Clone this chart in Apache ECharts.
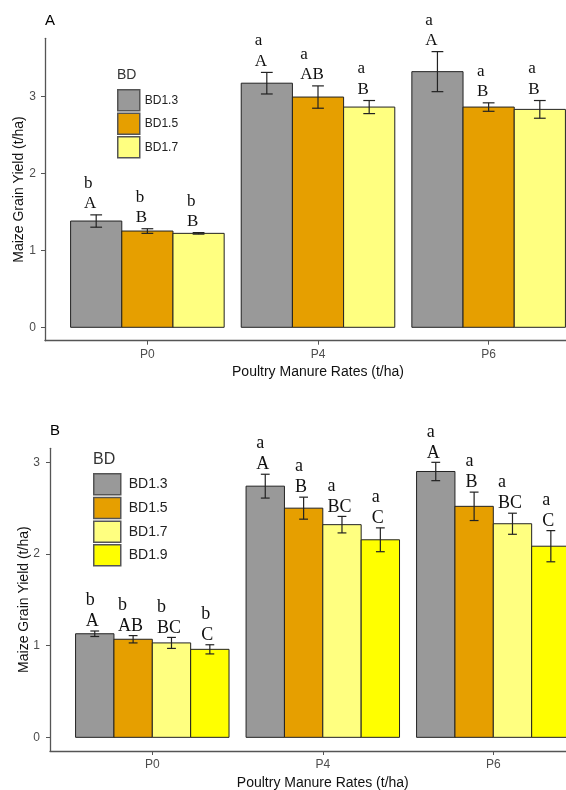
<!DOCTYPE html>
<html>
<head>
<meta charset="utf-8">
<title>Maize Grain Yield</title>
<script src="https://cdn.jsdelivr.net/npm/echarts@6/dist/echarts.min.js"></script>
<style>
  html, body { margin: 0; padding: 0; background: #fff; }
  #main { width: 566px; height: 790px; }
</style>
</head>
<body>
<div id="main"></div>
<script>
// manure rates on the x axis, bulk density levels as dodged bars
var categories = ['P0', 'P4', 'P6'];
var yTicks = [0, 1, 2, 3];

// panel A
var levelsA = ['BD1.3', 'BD1.5', 'BD1.7'];
var meanA13 = [1.38, 3.17, 3.32];
var meanA15 = [1.25, 2.99, 2.86];
var meanA17 = [1.22, 2.86, 2.83];
var seA13 = [0.08, 0.14, 0.26];
var seA15 = [0.03, 0.145, 0.055];
var seA17 = [0.01, 0.085, 0.115];
var upperA13 = ['A', 'A', 'A'];
var upperA15 = ['B', 'AB', 'B'];
var upperA17 = ['B', 'B', 'B'];
var lowerA13 = ['b', 'a', 'a'];
var lowerA15 = ['b', 'a', 'a'];
var lowerA17 = ['b', 'a', 'a'];

// panel B
var levelsB = ['BD1.3', 'BD1.5', 'BD1.7', 'BD1.9'];
var meanB13 = [1.13, 2.74, 2.90];
var meanB15 = [1.07, 2.50, 2.52];
var meanB17 = [1.03, 2.32, 2.33];
var meanB19 = [0.96, 2.155, 2.085];
var seB13 = [0.03, 0.13, 0.10];
var seB15 = [0.04, 0.12, 0.155];
var seB17 = [0.06, 0.09, 0.115];
var seB19 = [0.05, 0.13, 0.17];
var upperB13 = ['A', 'A', 'A'];
var upperB15 = ['AB', 'B', 'B'];
var upperB17 = ['BC', 'BC', 'BC'];
var upperB19 = ['C', 'C', 'C'];
var lowerB13 = ['b', 'a', 'a'];
var lowerB15 = ['b', 'a', 'a'];
var lowerB17 = ['b', 'a', 'a'];
var lowerB19 = ['b', 'a', 'a'];

var fills = { 'BD1.3': '#999999', 'BD1.5': '#E69F00', 'BD1.7': '#FFFF80', 'BD1.9': '#FFFF00' };
var sans = '"Liberation Sans", Arial, sans-serif';
var serif = '"Liberation Serif", "Times New Roman", serif';

var measureCtx = document.createElement('canvas').getContext('2d');

function panelSeries(panel, levels, means, ses, uppers, lowers, opt) {
    var n = levels.length;
    var font = opt.fontSize + 'px ' + serif;
    return levels.map(function (name, j) {
        return {
            type: 'custom',
            name: name,
            xAxisIndex: panel,
            yAxisIndex: panel,
            itemStyle: { color: fills[name] },
            data: categories.map(function (c, i) { return [i + 1, means[j][i], ses[j][i]]; }),
            renderItem: function (params, api) {
                var i = params.dataIndex;
                var x = api.value(0), m = api.value(1), s = api.value(2);
                var bw = 0.9 / n;
                var x0 = x - 0.45 + j * bw;
                var tl = api.coord([x0, m]);
                var br = api.coord([x0 + bw, 0]);
                var cx = (tl[0] + br[0]) / 2;
                var top = api.coord([x0 + bw / 2, m + s])[1];
                var bot = api.coord([x0 + bw / 2, m - s])[1];
                var cap = (br[0] - tl[0]) * 0.115;
                measureCtx.font = font;
                var w = measureCtx.measureText(uppers[j][i]).width;
                var lx = cx - w / 2 - opt.shift;
                var uy = top - opt.upGap;
                var line = { stroke: '#222', lineWidth: 1.2 };
                return {
                    type: 'group',
                    children: [
                        { type: 'rect', shape: { x: tl[0], y: tl[1], width: br[0] - tl[0], height: br[1] - tl[1] },
                          style: { fill: fills[name], stroke: '#222', lineWidth: 1 } },
                        { type: 'line', shape: { x1: cx, y1: top, x2: cx, y2: bot }, style: line },
                        { type: 'line', shape: { x1: cx - cap, y1: top, x2: cx + cap, y2: top }, style: line },
                        { type: 'line', shape: { x1: cx - cap, y1: bot, x2: cx + cap, y2: bot }, style: line },
                        { type: 'text', x: lx, y: uy,
                          style: { text: uppers[j][i], font: font, fill: '#111', align: 'left', verticalAlign: 'middle' } },
                        { type: 'text', x: lx, y: uy - opt.lineH,
                          style: { text: lowers[j][i], font: font, fill: '#111', align: 'left', verticalAlign: 'middle' } }
                    ]
                };
            }
        };
    });
}

function xAxisFor(grid, nameGap) {
    return {
        type: 'value', gridIndex: grid, min: 0.4, max: 3.6,
        axisLine: { show: true, onZero: false, lineStyle: { color: '#555', width: 1.3 } },
        axisTick: { show: true, customValues: [1, 2, 3], length: 4, lineStyle: { color: '#555', width: 1 } },
        axisLabel: { customValues: [1, 2, 3], formatter: function (v) { return categories[Math.round(v) - 1]; },
                     color: '#4d4d4d', fontSize: 12, fontFamily: sans, margin: 8 },
        splitLine: { show: false },
        name: 'Poultry Manure Rates (t/ha)', nameLocation: 'middle', nameGap: nameGap, nameMoveOverlap: false,
        nameTextStyle: { color: '#111', fontSize: 14, fontFamily: sans }
    };
}

function yAxisFor(grid, min, max, margin, nameGap) {
    return {
        type: 'value', gridIndex: grid, min: min, max: max,
        axisLine: { show: true, lineStyle: { color: '#555', width: 1.3 } },
        axisTick: { show: true, customValues: yTicks, length: 4, lineStyle: { color: '#555', width: 1 } },
        axisLabel: { customValues: yTicks, color: '#4d4d4d', fontSize: 12, fontFamily: sans, margin: margin },
        splitLine: { show: false },
        name: 'Maize Grain Yield (t/ha)', nameLocation: 'middle', nameGap: nameGap, nameRotate: 90,
        nameMoveOverlap: false,
        nameTextStyle: { color: '#111', fontSize: 14, fontFamily: sans }
    };
}

var chart = echarts.init(document.getElementById('main'), null, { renderer: 'canvas' });

var series = []
    .concat(panelSeries(0, levelsA, [meanA13, meanA15, meanA17], [seA13, seA15, seA17],
        [upperA13, upperA15, upperA17], [lowerA13, lowerA15, lowerA17],
        { fontSize: 17, shift: 6, upGap: 11, lineH: 20.5 }))
    .concat(panelSeries(1, levelsB, [meanB13, meanB15, meanB17, meanB19], [seB13, seB15, seB17, seB19],
        [upperB13, upperB15, upperB17, upperB19], [lowerB13, lowerB15, lowerB17, lowerB19],
        { fontSize: 18, shift: 2.5, upGap: 9.5, lineH: 21 }));

var option = {
    animation: false,
    backgroundColor: '#fff',
    grid: [
        { left: 45, top: 38.3, width: 546, height: 302.4, containLabel: false, outerBoundsMode: 'none' },
        { left: 50, top: 448.3, width: 545.6, height: 302.7, containLabel: false, outerBoundsMode: 'none' }
    ],
    xAxis: [xAxisFor(0, 24), xAxisFor(1, 25)],
    yAxis: [yAxisFor(0, -0.174, 3.753, 9, 19), yAxisFor(1, -0.149, 3.153, 10, 19)],
    legend: [
        { data: levelsA, left: 117, top: 89, orient: 'vertical', padding: 0, icon: 'rect',
          itemWidth: 22, itemHeight: 21, itemGap: 1, selectedMode: false,
          itemStyle: { borderColor: '#555', borderWidth: 1.5 },
          textStyle: { fontSize: 12, color: '#222', fontFamily: sans } },
        { data: levelsB, left: 93, top: 473, orient: 'vertical', padding: 0, icon: 'rect',
          itemWidth: 27, itemHeight: 21, itemGap: 1.2, selectedMode: false,
          itemStyle: { borderColor: '#555', borderWidth: 1.5 },
          textStyle: { fontSize: 14, color: '#222', fontFamily: sans, padding: [0, 0, 0, 3] } }
    ],
    graphic: [
        { type: 'text', x: 45, y: 21, style: { text: 'A', fontSize: 15, fontFamily: sans, fill: '#000', verticalAlign: 'middle' } },
        { type: 'text', x: 50, y: 431, style: { text: 'B', fontSize: 15, fontFamily: sans, fill: '#000', verticalAlign: 'middle' } },
        { type: 'text', x: 117, y: 75, style: { text: 'BD', fontSize: 14, fontFamily: sans, fill: '#333', verticalAlign: 'middle' } },
        { type: 'text', x: 93, y: 460, style: { text: 'BD', fontSize: 16, fontFamily: sans, fill: '#333', verticalAlign: 'middle' } }
    ],
    series: series
};

chart.setOption(option);
</script>
</body>
</html>
